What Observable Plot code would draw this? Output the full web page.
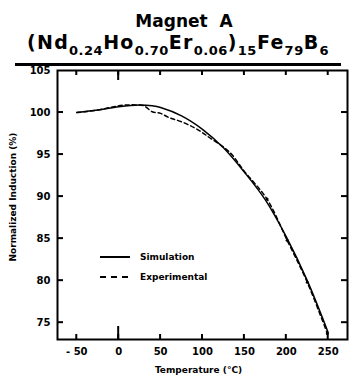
<!DOCTYPE html>
<html><head><meta charset="utf-8">
<script src="https://cdn.jsdelivr.net/npm/d3@7"></script>
<script src="https://cdn.jsdelivr.net/npm/@observablehq/plot@0.6"></script>
<style>
body{margin:0;background:#fff;}
#wrap{position:relative;width:350px;height:384px;font-family:"DejaVu Sans",sans-serif;font-weight:bold;color:#000;}
#t1{position:absolute;left:0;width:368px;top:11px;text-align:center;font-size:17px;}
#t2{position:absolute;left:15px;width:326px;top:31px;text-align:center;font-size:19px;letter-spacing:1.3px;border-bottom:3px solid #000;height:32px;white-space:nowrap;}
#t2 sub{font-size:13px;vertical-align:-6px;letter-spacing:0.5px;}
.leg{position:absolute;left:100px;font-size:9px;display:flex;align-items:center;}
.leg svg{margin-right:10px;}
</style></head>
<body><div id="wrap">
<div id="t1">Magnet&nbsp;&nbsp;A</div>
<div id="t2">(Nd<sub>0.24</sub>Ho<sub>0.70</sub>Er<sub>0.06</sub>)<sub>15</sub>Fe<sub>79</sub>B<sub>6</sub></div>
<div class="leg" style="top:252px"><svg width="30" height="10"><line x1="0" x2="30" y1="5" y2="5" stroke="#000" stroke-width="2"/></svg>Simulation</div>
<div class="leg" style="top:272px"><svg width="30" height="10"><line x1="0" x2="30" y1="5" y2="5" stroke="#000" stroke-width="2" stroke-dasharray="6,5"/></svg>Experimental</div>
</div>
<script>
const simT = [-50,-25,0,25,40,50,75,100,125,150,175,200,225,250];
const simV = [100.0,100.3,100.7,100.9,100.8,100.6,99.6,98.0,95.8,92.9,89.6,85.2,80.0,73.8];
const expT = [-50,-40,-25,-10,0,10,20,30,40,50,60,75,90,100,110,125,135,150,177,201,225,249];
const expV = [100.0,100.1,100.3,100.6,100.8,100.9,100.9,100.8,100.1,99.9,99.4,98.9,98.2,97.6,96.9,95.9,95.0,93.0,89.7,84.8,79.8,73.7];
const dotT = [177,201,225,249];
const xTicks = [-50,0,50,100,150,200,250];
const yTicks = [75,80,85,90,95,100,105];
const innerY = yTicks.filter(d => d < 105);
const xDomain = [-73, 273];
const yDomain = [73, 105];

const sim = simT.map((t,i)=>({t, v: simV[i]}));
const exp = expT.map((t,i)=>({t, v: expV[i]}));
const dots = exp.filter(d => dotT.includes(d.t));

// inward tick marks drawn as small filled rects anchored on the frame edges
const xTick = (vals, edge, len) => Plot.rect(vals, {
  x1: d => d, x2: d => d, y1: edge, y2: edge,
  insetLeft: -1, insetRight: -1,
  ...(edge === yDomain[0] ? {insetTop: -len, insetBottom: 0} : {insetTop: 0, insetBottom: -len}),
  fill: "black"
});
const yTick = (vals, edge, len) => Plot.rect(vals, {
  y1: d => d, y2: d => d, x1: edge, x2: edge,
  insetTop: -1, insetBottom: -1,
  ...(edge === xDomain[0] ? {insetLeft: 0, insetRight: -len} : {insetLeft: -len, insetRight: 0}),
  fill: "black"
});

const plot = Plot.plot({
  width: 350, height: 384,
  marginTop: 70, marginBottom: 45, marginLeft: 57, marginRight: 3,
  style: {fontFamily: "DejaVu Sans, sans-serif", fontSize: "10px"},
  x: {domain: xDomain, label: null},
  y: {domain: yDomain, label: null},
  marks: [
    Plot.frame({stroke: "black", strokeWidth: 2}),
    Plot.axisX({anchor: "bottom", ticks: xTicks, tickSize: 0, tickPadding: 8, fontWeight: "bold", fontSize: 10, tickFormat: d => d < 0 ? "- " + Math.abs(d) : String(d)}),
    Plot.axisY({anchor: "left", ticks: yTicks, tickSize: 0, tickPadding: 7, fontWeight: "bold", fontSize: 10}),
    xTick(xTicks, yDomain[0], 5),
    xTick(xTicks, yDomain[1], 5),
    xTick([0], yDomain[0], 13),
    xTick([0], yDomain[1], 10),
    yTick(innerY, xDomain[0], 6),
    yTick(innerY, xDomain[1], 6),
    Plot.line(sim, {x: "t", y: "v", curve: "catmull-rom", stroke: "black", strokeWidth: 1.5}),
    Plot.line(exp, {x: "t", y: "v", curve: "catmull-rom", stroke: "black", strokeWidth: 1.5, strokeDasharray: "4,3"}),
    Plot.dot(dots, {x: "t", y: "v", r: 1.5, fill: "black"}),
    Plot.text(["Normalized Induction (%)"], {frameAnchor: "left", textAnchor: "middle", rotate: -90, dx: -44, dy: -8, fontSize: 9, fontWeight: "bold"}),
    Plot.text(["Temperature (°C)"], {frameAnchor: "bottom", textAnchor: "middle", dy: 33, dx: -4, fontSize: 9, fontWeight: "bold"})
  ]
});
plot.style.position = "absolute";
plot.style.left = "0";
plot.style.top = "0";
document.getElementById("wrap").prepend(plot);
</script>
</body></html>
